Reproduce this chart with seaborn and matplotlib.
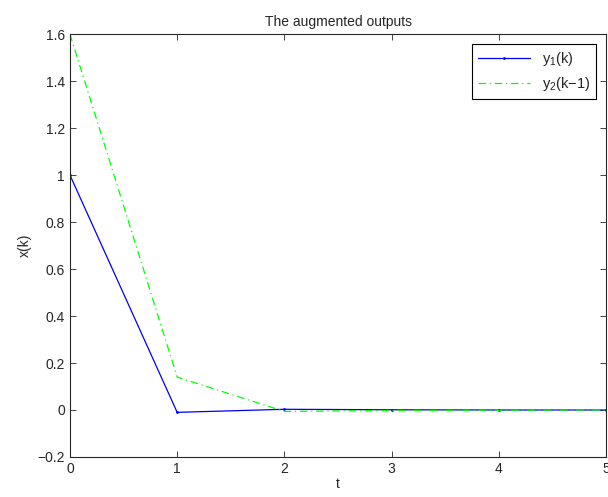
import numpy as np
import pandas as pd
import seaborn as sns
import matplotlib.pyplot as plt

t = [0, 1, 2, 3, 4, 5]
y1 = [1.0, -0.01, 0.003, 0.001, 0.0, 0.0]
y2 = [1.6, 0.14, -0.006, -0.002, -0.001, 0.0]

sns.set_style('ticks')
plt.rcParams['font.family'] = ['Liberation Sans', 'DejaVu Sans']
plt.rcParams['mathtext.fontset'] = 'custom'
plt.rcParams['mathtext.rm'] = 'Liberation Sans'
plt.rcParams['mathtext.it'] = 'Liberation Sans'
plt.rcParams['xtick.direction'] = 'in'
plt.rcParams['ytick.direction'] = 'in'

fig = plt.figure(figsize=(6.08, 4.97), dpi=100)
ax = fig.add_axes([0.115, 0.0805, 0.882, 0.851])

df = pd.DataFrame({'t': t, 'y1': y1, 'y2': y2})
sns.lineplot(data=df, x='t', y='y1', ax=ax, color='blue', linewidth=0.9,
             marker='.', markersize=4, markeredgewidth=0, label='y$_1$(k)')
sns.lineplot(data=df, x='t', y='y2', ax=ax, color='#00ff00', linewidth=0.9,
             linestyle=(0, (6, 3, 1, 3)), label='y$_2$(k\u22121)')

ax.set_xlim(0, 5)
ax.set_ylim(-0.2, 1.6)
ax.set_xticks([0, 1, 2, 3, 4, 5])
ax.set_yticks(np.arange(-0.2, 1.61, 0.2))
ax.set_yticklabels(['\u22120.2', '0', '0.2', '0.4', '0.6', '0.8', '1', '1.2', '1.4', '1.6'])
ax.tick_params(top=True, right=True, labelsize=10, length=4, width=0.6)
for s in ax.spines.values():
    s.set_linewidth(0.8)
ax.set_xlabel('t', fontsize=10, labelpad=1)
ax.set_ylabel('x(k)', fontsize=10, labelpad=4)
ax.set_title('The augmented outputs', fontsize=10, pad=6)

leg = ax.legend(loc='upper right', fontsize=10.5, frameon=True, fancybox=False,
                edgecolor='black', framealpha=1, borderaxespad=0.7, handlelength=3.6)
leg.get_frame().set_linewidth(0.8)

fig.savefig('out.png', dpi=100)
